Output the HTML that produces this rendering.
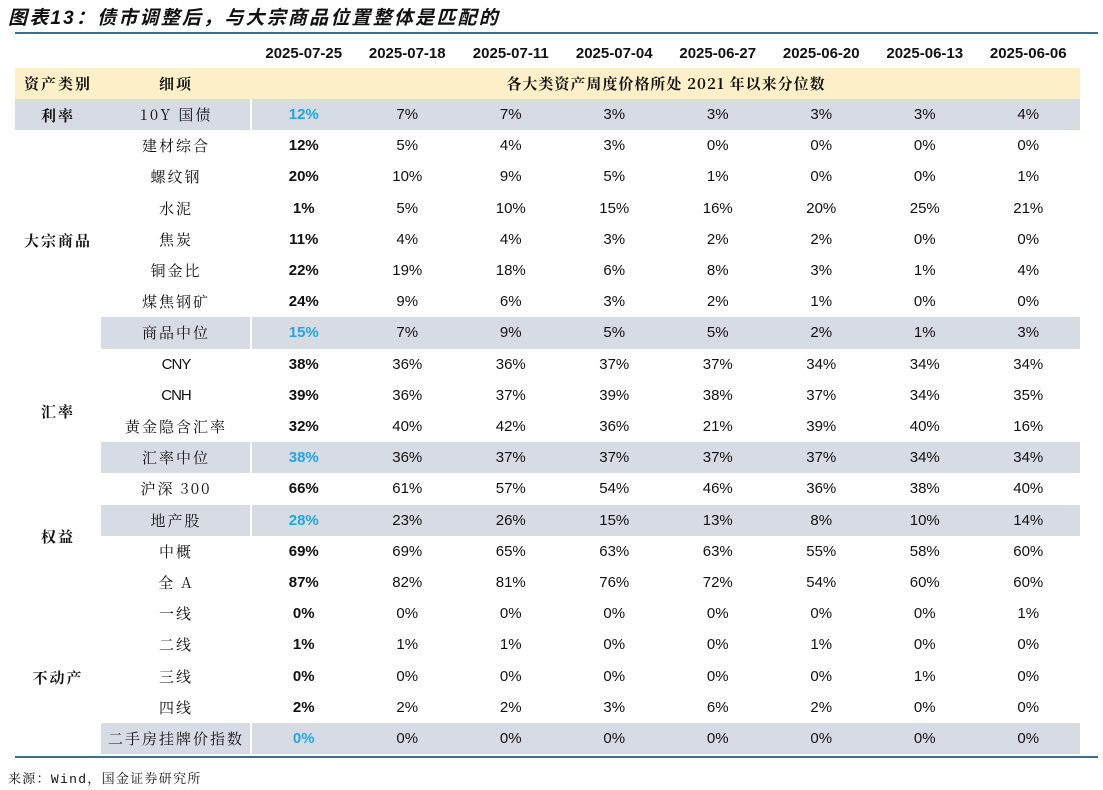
<!DOCTYPE html><html><head><meta charset="utf-8"><style>
body{margin:0;width:1103px;height:790px;background:#fff;position:relative;overflow:hidden;font-family:"Liberation Sans","Noto Sans CJK SC",sans-serif;color:#111}
.a{position:absolute}
.t{left:8px;top:3px;font-size:19px;font-weight:bold;font-style:italic;font-family:"Liberation Sans","Noto Sans CJK SC",sans-serif;letter-spacing:2.2px}
.rule{left:15px;width:1083px;height:2px;background:#3e6e8d}
.row{position:absolute;left:0;width:1103px;height:31.2px;font-size:15px}
.row div{position:absolute;top:0;height:31.2px;line-height:31.2px;text-align:center}
.g{background:#d7dce4}
.c0{left:15px;width:86px}.c1{left:101px;width:150px;font-family:"Noto Serif CJK SC",serif;letter-spacing:2px}
.d{width:103.5px}
.d0{left:252px;font-weight:bold}.d1{left:355.5px}.d2{left:459px}.d3{left:562.5px}.d4{left:666px}.d5{left:769.5px}.d6{left:873px}.d7{left:976.5px}
.b{color:#1ea5e6}
.cat{position:absolute;left:15px;width:86px;text-align:center;font-size:15px;font-weight:bold;font-family:"Noto Serif CJK SC",serif;letter-spacing:2px}
</style></head><body>
<div class="a t">图表13：债市调整后，与大宗商品位置整体是匹配的</div>
<div class="a rule" style="top:32px"></div>
<div class="row" style="top:38px;font-weight:bold"><div class="d d0">2025-07-25</div><div class="d d1" style="font-weight:bold">2025-07-18</div><div class="d d2" style="font-weight:bold">2025-07-11</div><div class="d d3" style="font-weight:bold">2025-07-04</div><div class="d d4" style="font-weight:bold">2025-06-27</div><div class="d d5" style="font-weight:bold">2025-06-20</div><div class="d d6" style="font-weight:bold">2025-06-13</div><div class="d d7" style="font-weight:bold">2025-06-06</div></div>
<div class="row" style="top:68px;left:15px;width:1065px;background:#fdf0c8;font-weight:bold"><div style="left:0;width:86px;font-family:'Noto Serif CJK SC',serif;letter-spacing:2px">资产类别</div><div style="left:86px;width:150px;font-family:'Noto Serif CJK SC',serif;letter-spacing:2px">细项</div><div style="left:237px;width:828px;font-family:'Noto Serif CJK SC',serif;letter-spacing:1px">各大类资产周度价格所处 2021 年以来分位数</div></div>

<div class="a g" style="left:15px;top:99px;width:1065px;height:31.2px"></div>
<div class="a g" style="left:101px;top:317.4px;width:979px;height:31.2px"></div>
<div class="a g" style="left:101px;top:442.2px;width:979px;height:31.2px"></div>
<div class="a g" style="left:101px;top:504.6px;width:979px;height:31.2px"></div>
<div class="a g" style="left:101px;top:723px;width:979px;height:31.2px"></div>
<div class="a" style="left:250px;top:99px;width:2px;height:656px;background:#fff"></div>

<div class="cat" style="top:105px">利率</div>
<div class="cat" style="top:230px">大宗商品</div>
<div class="cat" style="top:401px">汇率</div>
<div class="cat" style="top:526px">权益</div>
<div class="cat" style="top:667px">不动产</div>

<div class="row" style="top:99px"><div class="c1">10Y 国债</div><div class="d d0 b">12%</div><div class="d d1">7%</div><div class="d d2">7%</div><div class="d d3">3%</div><div class="d d4">3%</div><div class="d d5">3%</div><div class="d d6">3%</div><div class="d d7">4%</div></div>
<div class="row" style="top:130.2px"><div class="c1">建材综合</div><div class="d d0">12%</div><div class="d d1">5%</div><div class="d d2">4%</div><div class="d d3">3%</div><div class="d d4">0%</div><div class="d d5">0%</div><div class="d d6">0%</div><div class="d d7">0%</div></div>
<div class="row" style="top:161.4px"><div class="c1">螺纹钢</div><div class="d d0">20%</div><div class="d d1">10%</div><div class="d d2">9%</div><div class="d d3">5%</div><div class="d d4">1%</div><div class="d d5">0%</div><div class="d d6">0%</div><div class="d d7">1%</div></div>
<div class="row" style="top:192.6px"><div class="c1">水泥</div><div class="d d0">1%</div><div class="d d1">5%</div><div class="d d2">10%</div><div class="d d3">15%</div><div class="d d4">16%</div><div class="d d5">20%</div><div class="d d6">25%</div><div class="d d7">21%</div></div>
<div class="row" style="top:223.8px"><div class="c1">焦炭</div><div class="d d0">11%</div><div class="d d1">4%</div><div class="d d2">4%</div><div class="d d3">3%</div><div class="d d4">2%</div><div class="d d5">2%</div><div class="d d6">0%</div><div class="d d7">0%</div></div>
<div class="row" style="top:255px"><div class="c1">铜金比</div><div class="d d0">22%</div><div class="d d1">19%</div><div class="d d2">18%</div><div class="d d3">6%</div><div class="d d4">8%</div><div class="d d5">3%</div><div class="d d6">1%</div><div class="d d7">4%</div></div>
<div class="row" style="top:286.2px"><div class="c1">煤焦钢矿</div><div class="d d0">24%</div><div class="d d1">9%</div><div class="d d2">6%</div><div class="d d3">3%</div><div class="d d4">2%</div><div class="d d5">1%</div><div class="d d6">0%</div><div class="d d7">0%</div></div>
<div class="row" style="top:317.4px"><div class="c1">商品中位</div><div class="d d0 b">15%</div><div class="d d1">7%</div><div class="d d2">9%</div><div class="d d3">5%</div><div class="d d4">5%</div><div class="d d5">2%</div><div class="d d6">1%</div><div class="d d7">3%</div></div>
<div class="row" style="top:348.6px"><div class="c1" style="font-family:'Liberation Sans',sans-serif;letter-spacing:-1px">CNY</div><div class="d d0">38%</div><div class="d d1">36%</div><div class="d d2">36%</div><div class="d d3">37%</div><div class="d d4">37%</div><div class="d d5">34%</div><div class="d d6">34%</div><div class="d d7">34%</div></div>
<div class="row" style="top:379.8px"><div class="c1" style="font-family:'Liberation Sans',sans-serif;letter-spacing:-1px">CNH</div><div class="d d0">39%</div><div class="d d1">36%</div><div class="d d2">37%</div><div class="d d3">39%</div><div class="d d4">38%</div><div class="d d5">37%</div><div class="d d6">34%</div><div class="d d7">35%</div></div>
<div class="row" style="top:411px"><div class="c1">黄金隐含汇率</div><div class="d d0">32%</div><div class="d d1">40%</div><div class="d d2">42%</div><div class="d d3">36%</div><div class="d d4">21%</div><div class="d d5">39%</div><div class="d d6">40%</div><div class="d d7">16%</div></div>
<div class="row" style="top:442.2px"><div class="c1">汇率中位</div><div class="d d0 b">38%</div><div class="d d1">36%</div><div class="d d2">37%</div><div class="d d3">37%</div><div class="d d4">37%</div><div class="d d5">37%</div><div class="d d6">34%</div><div class="d d7">34%</div></div>
<div class="row" style="top:473.4px"><div class="c1">沪深 300</div><div class="d d0">66%</div><div class="d d1">61%</div><div class="d d2">57%</div><div class="d d3">54%</div><div class="d d4">46%</div><div class="d d5">36%</div><div class="d d6">38%</div><div class="d d7">40%</div></div>
<div class="row" style="top:504.6px"><div class="c1">地产股</div><div class="d d0 b">28%</div><div class="d d1">23%</div><div class="d d2">26%</div><div class="d d3">15%</div><div class="d d4">13%</div><div class="d d5">8%</div><div class="d d6">10%</div><div class="d d7">14%</div></div>
<div class="row" style="top:535.8px"><div class="c1">中概</div><div class="d d0">69%</div><div class="d d1">69%</div><div class="d d2">65%</div><div class="d d3">63%</div><div class="d d4">63%</div><div class="d d5">55%</div><div class="d d6">58%</div><div class="d d7">60%</div></div>
<div class="row" style="top:567px"><div class="c1">全 A</div><div class="d d0">87%</div><div class="d d1">82%</div><div class="d d2">81%</div><div class="d d3">76%</div><div class="d d4">72%</div><div class="d d5">54%</div><div class="d d6">60%</div><div class="d d7">60%</div></div>
<div class="row" style="top:598.2px"><div class="c1">一线</div><div class="d d0">0%</div><div class="d d1">0%</div><div class="d d2">0%</div><div class="d d3">0%</div><div class="d d4">0%</div><div class="d d5">0%</div><div class="d d6">0%</div><div class="d d7">1%</div></div>
<div class="row" style="top:629.4px"><div class="c1">二线</div><div class="d d0">1%</div><div class="d d1">1%</div><div class="d d2">1%</div><div class="d d3">0%</div><div class="d d4">0%</div><div class="d d5">1%</div><div class="d d6">0%</div><div class="d d7">0%</div></div>
<div class="row" style="top:660.6px"><div class="c1">三线</div><div class="d d0">0%</div><div class="d d1">0%</div><div class="d d2">0%</div><div class="d d3">0%</div><div class="d d4">0%</div><div class="d d5">0%</div><div class="d d6">1%</div><div class="d d7">0%</div></div>
<div class="row" style="top:691.8px"><div class="c1">四线</div><div class="d d0">2%</div><div class="d d1">2%</div><div class="d d2">2%</div><div class="d d3">3%</div><div class="d d4">6%</div><div class="d d5">2%</div><div class="d d6">0%</div><div class="d d7">0%</div></div>
<div class="row" style="top:723px"><div class="c1">二手房挂牌价指数</div><div class="d d0 b">0%</div><div class="d d1">0%</div><div class="d d2">0%</div><div class="d d3">0%</div><div class="d d4">0%</div><div class="d d5">0%</div><div class="d d6">0%</div><div class="d d7">0%</div></div>

<div class="a rule" style="top:756px"></div>
<div class="a" style="left:8px;top:768px;font-size:13px;letter-spacing:1.3px;font-family:'Liberation Mono','Noto Serif CJK SC',monospace">来源：Wind，国金证券研究所</div>
</body></html>
